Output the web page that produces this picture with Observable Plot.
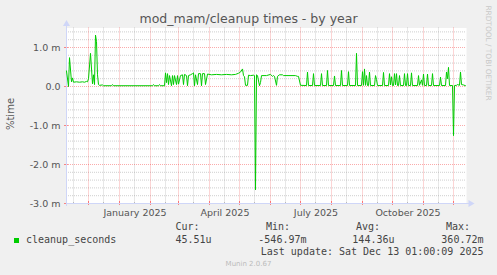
<!DOCTYPE html>
<html><head><meta charset="utf-8">
<script src="https://cdn.jsdelivr.net/npm/d3@7"></script>
<script src="https://cdn.jsdelivr.net/npm/@observablehq/plot@0.6"></script>
<style>
html,body{margin:0;padding:0;background:#F0F0F0;}
#wrap{position:relative;width:497px;height:275px;overflow:hidden;background:#F0F0F0;font-family:"DejaVu Sans",sans-serif;color:#555;}
#wrap svg{position:absolute;left:0;top:0;}
.t{position:absolute;white-space:pre;}
.mono{font-family:"DejaVu Sans Mono",monospace;font-size:10px;line-height:10px;color:#444;}
</style></head><body><div id="wrap"></div>
<script>
// ---- data (day index from 2024-11-09, value in milli "%time") ----
const startDay = "2024-11-09";
const dayIdx = [
  0,2,3,5,6,7,10,13,16,18,20,21,22,24,26,27,28,29,30,31,32,33,36,37,45,46,47,86,87,88,92,93,94,98,
  99,100,101,102,103,105,106,107,108,110,111,112,114,116,117,118,120,121,122,124,126,127,128,129,131,132,134,135,136,138,139,141,
  145,150,155,160,165,169,172,174,176,177,178,179,181,182,184,187,188,189,190,191,193,194,195,200,204,206,207,208,210,211,213,216,217,229,231,232,234,
  240,241,242,246,247,248,254,255,256,260,261,262,267,268,269,274,275,276,281,282,283,289,290,291,295,296,297,298,299,300,301,302,303,304,
  308,309,310,311,316,317,318,322,323,324,325,326,327,328,329,330,331,332,333,334,337,338,339,340,341,342,344,345,346,
  351,352,353,355,356,357,358,360,361,362,365,366,367,373,374,375,379,380,381,382,383,386,387,388,390,391,393,394,395,397,399
];
const cleanupMs = [
  0.40,0.00,0.74,0.12,0.22,0.11,0.12,0.11,0.12,0.11,0.13,0.12,0.20,0.85,0.07,0.30,0.05,1.32,1.15,0.30,0.05,0.03,0.04,0.02,0.02,0.05,0.02,0.02,0.05,0.02,0.02,0.05,0.02,0.02,
  0.35,0.10,0.33,0.05,0.28,0.02,0.28,0.05,0.28,0.05,0.28,0.06,0.28,0.30,0.05,0.31,0.28,0.02,0.28,0.30,0.33,0.35,0.02,0.30,0.05,0.33,0.33,0.02,0.33,0.33,0.05,0.32,
  0.30,0.31,0.30,0.31,0.30,0.31,0.34,0.37,0.45,0.28,0.25,0.03,0.03,0.29,0.28,0.29,0.28,-2.65,0.30,0.28,0.02,0.10,0.28,0.28,0.31,0.26,0.28,0.26,0.03,0.26,0.30,0.30,0.28,0.28,0.26,0.26,0.03,
  0.025,0.37,0.025,0.025,0.33,0.025,0.025,0.33,0.025,0.025,0.41,0.025,0.025,0.27,0.025,0.025,0.41,0.025,0.025,0.38,0.025,0.025,0.85,0.025,0.025,0.38,0.03,0.45,0.03,0.28,0.025,0.025,0.37,0.025,
  0.025,0.28,0.18,0.025,0.025,0.36,0.025,0.025,0.33,0.04,0.25,0.025,0.025,0.33,0.04,0.33,0.025,0.025,0.28,0.025,0.025,0.33,0.025,0.025,0.33,0.025,0.025,0.35,0.025,
  0.025,0.28,0.03,0.17,0.03,0.32,0.025,0.025,0.32,0.025,0.025,0.33,0.025,0.025,0.24,0.025,0.025,0.37,0.20,0.49,0.025,0.025,-1.26,0.025,0.03,0.05,0.03,0.37,0.05,0.04,0.02
];
const yTickValues = [1, 0, -1, -2, -3];
const yTickLabels = ["1.0 m", "0.0", "-1.0 m", "-2.0 m", "-3.0 m"];
const xTickDates = ["2025-01-16T12:00Z", "2025-04-16T12:00Z", "2025-07-16T12:00Z", "2025-10-16T12:00Z"];
const xTickLabels = ["January 2025", "April 2025", "July 2025", "October 2025"];
const legendName = "cleanup_seconds";
const legendHeads = ["Cur:", "Min:", "Avg:", "Max:"];
const legendVals = ["45.51u", "-546.97m", "144.36u", "360.72m"];
const titleText = "mod_mam/cleanup times - by year";
const yLabel = "%time";
const lastUpdate = "Last update: Sat Dec 13 01:00:09 2025";

// ---- build ----
const DAY = 864e5;
const t0 = new Date(startDay + "T00:00Z").getTime();
const toDate = d => new Date(t0 + d * DAY);
const data = dayIdx.map((d, i) => ({date: toDate(d), v: cleanupMs[i]}));
const xStart = toDate(0), xEnd = toDate(400);

const monthStarts = d3.utcMonth.range(new Date("2024-11-10T00:00Z"), xEnd);
const minorX = d3.utcMonth.range(new Date("2024-11-01T00:00Z"), xEnd).map(m => d3.utcDay.offset(m, 15)).filter(d => d > xStart && d < xEnd);
const yMajor = [1, 0, -1, -2];
const yMinor = d3.range(-2.8, 1.5, 0.2).map(v => Math.round(v * 10) / 10).filter(v => Math.abs(v - Math.round(v)) > 1e-6);
const xTickD = xTickDates.map(s => new Date(s));
const xLab = new Map(xTickD.map((d, i) => [+d, xTickLabels[i]]));
const yLab = new Map(yTickValues.map((v, i) => [v, yTickLabels[i]]));

const px = 1 / 39; // one pixel in y units
const axisCol = "#CFD6F8";
const gridCol = "rgba(140,140,140,0.42)";
const mgridCol = "rgba(240,0,0,0.33)";

const chart = Plot.plot({
  width: 497, height: 275,
  marginLeft: 66, marginRight: 31, marginTop: 27.5, marginBottom: 72,
  style: {background: "transparent", fontFamily: "DejaVu Sans", fontSize: "9.5px", color: "#555", overflow: "visible"},
  x: {type: "utc", domain: [xStart, xEnd]},
  y: {domain: [-3, 1.5], label: null},
  marks: [
    Plot.frame({fill: "white", stroke: "none"}),
    Plot.ruleY(yMinor, {stroke: gridCol, strokeDasharray: "1,1"}),
    Plot.ruleX(minorX, {stroke: gridCol, strokeDasharray: "1,1"}),
    Plot.ruleY(yMajor, {stroke: mgridCol, strokeDasharray: "1,1"}),
    Plot.ruleX(monthStarts, {stroke: mgridCol, strokeDasharray: "1,1"}),
    // axis ticks
    Plot.ruleX(monthStarts, {y1: -3 - 2 * px, y2: -3 + 2 * px, stroke: "rgba(255,0,0,0.45)"}),
    Plot.ruleX(minorX, {y1: -3 - 1 * px, y2: -3 + 1 * px, stroke: "rgba(140,140,140,0.5)"}),
    Plot.ruleY(yTickValues, {x1: d3.utcHour.offset(xStart, -48), x2: d3.utcHour.offset(xStart, 48), stroke: "rgba(255,0,0,0.45)"}),
    // axis lines
    Plot.ruleY([-3], {x1: xStart, x2: toDate(403), stroke: axisCol}),
    Plot.ruleX([xStart], {y1: -3 - 3 * px, y2: 1.58, stroke: axisCol}),
    Plot.dot([{x: toDate(404), y: -3}], {x: "x", y: "y", symbol: "triangle", r: 2.6, fill: axisCol, stroke: "none", rotate: 90}),
    Plot.dot([{x: xStart, y: 1.6}], {x: "x", y: "y", symbol: "triangle", r: 2.6, fill: axisCol, stroke: "none", rotate: 0}),
    Plot.line(data, {x: "date", y: "v", stroke: "#00CC00", strokeWidth: 1}),
    Plot.axisY(yTickValues, {tickSize: 0, tickPadding: 6, tickFormat: v => yLab.get(v), label: null}),
    Plot.axisX(xTickD, {tickSize: 0, tickPadding: 5.5, tickFormat: d => xLab.get(+d), label: null})
  ]
});
const wrap = document.getElementById("wrap");
wrap.appendChild(chart);

function addText(txt, css, cls) {
  const s = document.createElement("div");
  s.className = "t" + (cls ? " " + cls : "");
  s.textContent = txt;
  Object.assign(s.style, css);
  wrap.appendChild(s);
  return s;
}
// title
addText(titleText, {left: "0px", width: "497px", textAlign: "center", top: "13.4px", fontSize: "12.5px", lineHeight: "12.5px", color: "#555"});
// y label
addText(yLabel, {left: "11px", top: "114px", fontSize: "10px", lineHeight: "10px", transform: "translate(-50%,-50%) rotate(-90deg)", color: "#555"});
// watermark
addText("RRDTOOL / TOBI OETIKER", {left: "487.5px", top: "53px", fontSize: "7.4px", lineHeight: "7.4px", transform: "translate(-50%,-50%) rotate(90deg)", color: "#c8c8c8"});
// legend
const sq = document.createElement("div");
Object.assign(sq.style, {position: "absolute", left: "14px", top: "238px", width: "5px", height: "5px", background: "#00CC00"});
wrap.appendChild(sq);
addText(legendName, {left: "26px", top: "234.9px"}, "mono");
const headX = [175.5, 266, 356, 446];
legendHeads.forEach((h, i) => addText(h, {left: headX[i] + "px", top: "222.2px"}, "mono"));
const valRight = [211.5, 306.5, 394.5, 483.5];
legendVals.forEach((v, i) => addText(v, {right: (497 - valRight[i]) + "px", top: "234.9px"}, "mono"));
addText(lastUpdate, {right: (497 - 483.5) + "px", top: "246.5px"}, "mono");
addText("Munin 2.0.67", {left: "0px", width: "497px", textAlign: "center", top: "260.8px", fontSize: "7px", lineHeight: "7px", color: "#bbb"});
</script>
</body></html>
